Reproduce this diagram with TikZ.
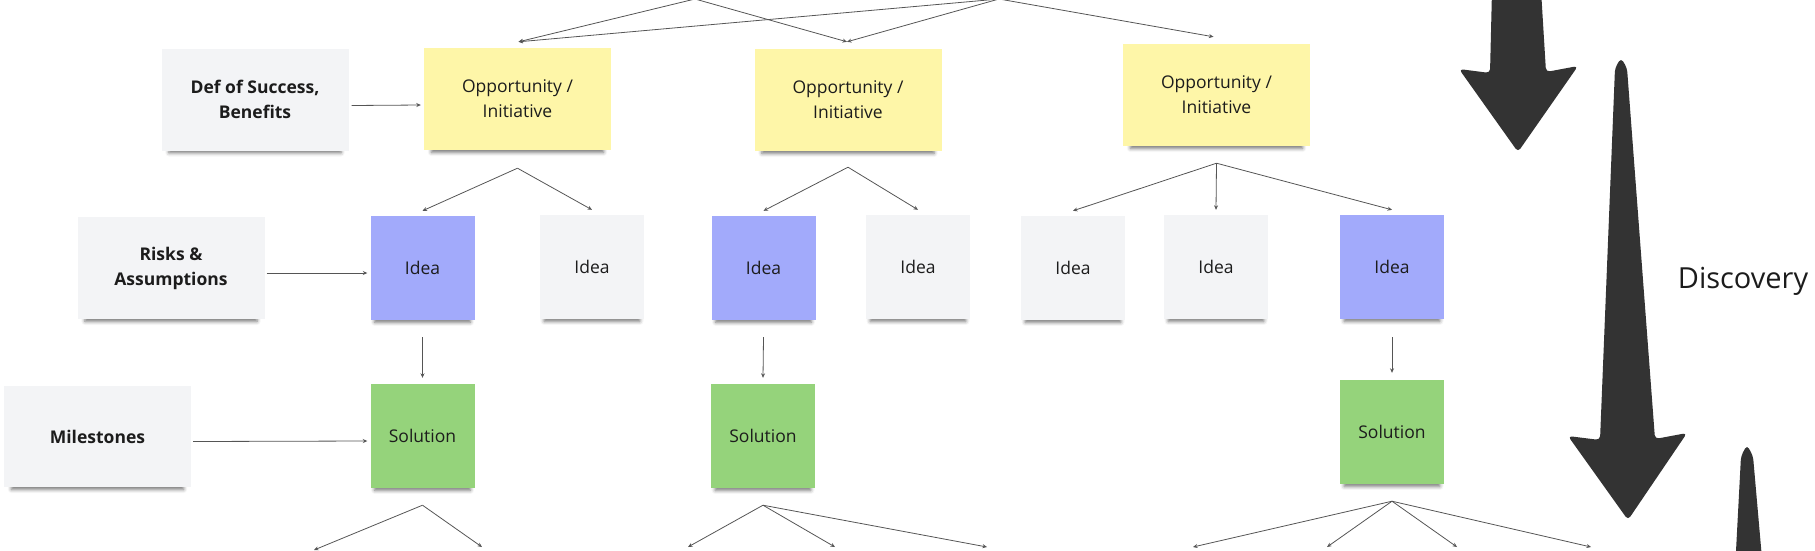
\documentclass[tikz,border=0pt]{standalone}
\usepackage{fontspec}
\setmainfont{Open Sans}
\usetikzlibrary{arrows.meta,calc,shadows.blur}
\definecolor{stickyY}{HTML}{FEF6A8}
\definecolor{stickyB}{HTML}{A2AAFB}
\definecolor{stickyG}{HTML}{95D37B}
\definecolor{stickyW}{HTML}{F3F4F6}
\definecolor{arrowdark}{HTML}{333333}
\definecolor{linegray}{HTML}{555555}
\definecolor{inkc}{HTML}{1C1C1C}
\tikzset{
  sticky/.style={rectangle, inner sep=0pt, align=center, text=inkc,
    font=\fontsize{17.5}{25}\selectfont,
    blur shadow={shadow xshift=0pt, shadow yshift=-7pt, shadow scale=0.92,
      shadow blur radius=4pt, shadow opacity=55}},
  widebox/.style={sticky, minimum width=187pt, minimum height=102pt},
  sqbox/.style={sticky, minimum width=104pt, minimum height=104pt},
  labelbox/.style={widebox, fill=stickyW, font=\fontsize{17.5}{25}\selectfont\bfseries},
  oppbox/.style={widebox, fill=stickyY},
  ideablue/.style={sqbox, fill=stickyB},
  ideagray/.style={sqbox, fill=stickyW},
  solbox/.style={sqbox, fill=stickyG},
  conn/.style={draw=linegray, line width=0.8pt, -{Stealth[length=4.5pt,width=4pt]}},
  bigarrow/.style={fill=arrowdark, rounded corners=4pt}
}
\begin{document}
\begin{tikzpicture}[x=1pt,y=-1pt]
\useasboundingbox (0,0) rectangle (1815,550);
\clip (0,0) rectangle (1815,550);

% label boxes
\node[labelbox] (def) at (255,99.5) {Def of Success,\\Benefits};
\node[labelbox] (risk) at (171,268) {Risks \&\\Assumptions};
\node[labelbox, minimum height=101pt] (miles) at (97.5,436.5) {Milestones};

% opportunities
\node[oppbox] (opp1) at (517.5,99) {Opportunity /\\Initiative};
\node[oppbox] (opp2) at (848,100) {Opportunity /\\Initiative};
\node[oppbox] (opp3) at (1216.5,95) {Opportunity /\\Initiative};

% ideas
\node[ideablue] (idea1) at (422.5,268) {Idea};
\node[ideagray] (idea2) at (592,267) {Idea};
\node[ideablue] (idea3) at (763.5,268) {Idea};
\node[ideagray] (idea4) at (918,267) {Idea};
\node[ideagray] (idea5) at (1073,268) {Idea};
\node[ideagray] (idea6) at (1216,267) {Idea};
\node[ideablue] (idea7) at (1392,267) {Idea};

% solutions
\node[solbox] (sol1) at (422.5,436) {Solution};
\node[solbox] (sol2) at (763,436) {Solution};
\node[solbox] (sol3) at (1392,432) {Solution};

% top connectors
\coordinate (a1) at (695,-1);
\coordinate (a2) at (999,-1);
\draw[conn] (a1) -- ($(opp1.north)+(1,-6)$);
\draw[conn] (a1) -- ($(opp2.north)+(-1,-7)$);
\draw[conn] (a2) -- ($(opp1.north)+(1,-6)$);
\draw[conn] (a2) -- ($(opp2.north)+(-1,-7)$);
\draw[conn] (a2) -- ($(opp3.north)+(-3,-7)$);

% side connectors
\draw[conn] ($(def.east)+(3,6)$) -- ($(opp1.west)+(-3,6)$);
\draw[conn] ($(risk.east)+(2,5)$) -- ($(idea1.west)+(-3,5)$);
\draw[conn] ($(miles.east)+(2,5)$) -- ($(sol1.west)+(-3,5)$);

% opportunity -> ideas
\coordinate (o1) at ($(opp1.south)+(0,18)$);
\coordinate (o2) at ($(opp2.south)+(0,16)$);
\coordinate (o3) at ($(opp3.south)+(0,17)$);
\draw[conn] (o1) -- ($(idea1.north)+(0,-5)$);
\draw[conn] (o1) -- ($(idea2.north)+(0,-5)$);
\draw[conn] (o2) -- ($(idea3.north)+(0,-5)$);
\draw[conn] (o2) -- ($(idea4.north)+(0,-5)$);
\draw[conn] (o3) -- ($(idea5.north)+(0,-5)$);
\draw[conn] (o3) -- ($(idea6.north)+(0,-5)$);
\draw[conn] (o3) -- ($(idea7.north)+(0,-5)$);

% ideas -> solutions
\draw[conn] ($(idea1.south)+(0,17)$) -- ($(sol1.north)+(0,-6)$);
\draw[conn] ($(idea3.south)+(0,17)$) -- ($(sol2.north)+(0,-6)$);
\draw[conn] ($(idea7.south)+(0,18)$) -- ($(sol3.north)+(0,-7)$);

% solutions -> (off picture)
\coordinate (s1) at ($(sol1.south)+(0,17)$);
\coordinate (s2) at ($(sol2.south)+(0,17)$);
\coordinate (s3) at ($(sol3.south)+(0,17)$);
\coordinate (e11) at (314,550);
\coordinate (e12) at (482,547);
\coordinate (e21) at (688,547);
\coordinate (e22) at (835,547);
\coordinate (e23) at (987,547);
\coordinate (e31) at (1193,547);
\coordinate (e32) at (1327,547);
\coordinate (e33) at (1457,547);
\coordinate (e34) at (1591,547);
\draw[conn] (s1) -- (e11);
\draw[conn] (s1) -- (e12);
\draw[conn] (s2) -- (e21);
\draw[conn] (s2) -- (e22);
\draw[conn] (s2) -- (e23);
\draw[conn] (s3) -- (e31);
\draw[conn] (s3) -- (e32);
\draw[conn] (s3) -- (e33);
\draw[conn] (s3) -- (e34);

% big arrows
\fill[bigarrow] (1492,-10) -- (1490,73) -- (1459,69) -- (1518,152) -- (1578,66) -- (1546,72) -- (1541,-10) -- cycle;
\fill[bigarrow] (1621,58) -- (1627,68) -- (1655,439) -- (1687,433) -- (1628,520) -- (1568,436) -- (1600,440) -- (1615,68) -- cycle;
\fill[bigarrow] (1741,456) -- (1747,445) -- (1753,456) -- (1763,570) -- (1735,570) -- cycle;

\node[font=\fontsize{29}{35}\selectfont, text=inkc] (disc) at (1743,281) {Discovery};
\end{tikzpicture}
\end{document}
